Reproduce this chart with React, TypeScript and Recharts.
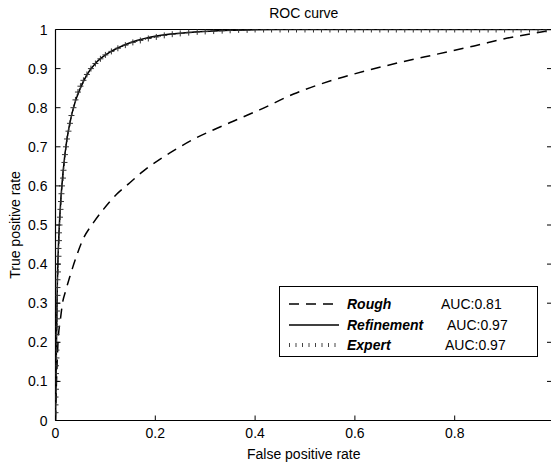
import React from 'react';
import { LineChart, Line, XAxis, YAxis, Legend, Label } from 'recharts';

const FONT = '"Liberation Sans", Arial, Helvetica, sans-serif';

// ROC points: [false positive rate, true positive rate]
const roughPoints: [number, number][] = [
  [0, 0], [0.001, 0.06], [0.002, 0.1], [0.005, 0.2], [0.01, 0.26], [0.014, 0.3],
  [0.02, 0.33], [0.029, 0.369], [0.042, 0.42], [0.055, 0.463], [0.076, 0.506],
  [0.096, 0.54], [0.122, 0.578], [0.149, 0.608], [0.176, 0.638], [0.209, 0.668],
  [0.243, 0.695], [0.276, 0.719], [0.316, 0.743], [0.35, 0.762], [0.377, 0.777],
  [0.41, 0.795], [0.477, 0.835], [0.557, 0.871], [0.624, 0.895], [0.691, 0.916],
  [0.765, 0.937], [0.839, 0.958], [0.906, 0.978], [0.979, 0.995], [1, 1],
];

const refinementPoints: [number, number][] = [
  [0, 0], [0.001, 0.1], [0.002, 0.2], [0.003, 0.3], [0.004, 0.37], [0.006, 0.45],
  [0.0086, 0.523], [0.015, 0.634], [0.022, 0.711], [0.029, 0.762], [0.039, 0.813],
  [0.049, 0.847], [0.062, 0.882], [0.082, 0.916], [0.109, 0.942], [0.143, 0.963],
  [0.189, 0.98], [0.256, 0.991], [0.357, 0.998], [0.45, 1], [1, 1],
];

const expertPoints: [number, number][] = [
  [0, 0], [0, 0.02], [0, 0.04], [0, 0.06], [0.001, 0.08], [0.001, 0.1], [0.001, 0.12],
  [0.001, 0.14], [0.002, 0.16], [0.002, 0.18], [0.002, 0.2], [0.002, 0.22], [0.003, 0.24],
  [0.003, 0.26], [0.003, 0.28], [0.003, 0.3], [0.004, 0.32], [0.004, 0.34], [0.004, 0.36],
  [0.005, 0.38], [0.005, 0.4], [0.006, 0.42], [0.006, 0.44], [0.007, 0.46], [0.007, 0.48],
  [0.008, 0.5], [0.009, 0.52], [0.01, 0.54], [0.011, 0.56], [0.012, 0.58], [0.013, 0.6],
  [0.015, 0.62], [0.016, 0.64], [0.018, 0.66], [0.019, 0.68], [0.021, 0.7], [0.023, 0.72],
  [0.026, 0.74], [0.029, 0.76], [0.032, 0.78], [0.036, 0.8], [0.04, 0.82], [0.045, 0.84],
  [0.05, 0.855], [0.056, 0.87], [0.063, 0.885], [0.071, 0.9], [0.08, 0.913], [0.09, 0.925],
  [0.1, 0.935], [0.112, 0.944], [0.125, 0.952], [0.14, 0.96], [0.155, 0.967], [0.17, 0.972],
  [0.186, 0.977], [0.202, 0.981], [0.218, 0.985], [0.234, 0.988], [0.25, 0.99], [0.267, 0.992],
  [0.284, 0.994], [0.3, 0.995], [0.317, 0.996], [0.334, 0.997], [0.35, 0.998], [0.367, 0.999],
  [0.384, 0.999], [0.4, 1], [0.417, 1], [0.433, 1], [0.45, 1], [0.467, 1], [0.483, 1],
  [0.5, 1], [0.517, 1], [0.533, 1], [0.55, 1], [0.567, 1], [0.583, 1], [0.6, 1], [0.617, 1],
  [0.633, 1], [0.65, 1], [0.667, 1], [0.683, 1], [0.7, 1], [0.717, 1], [0.733, 1], [0.75, 1],
  [0.767, 1], [0.783, 1], [0.8, 1], [0.817, 1], [0.833, 1], [0.85, 1], [0.867, 1], [0.883, 1],
  [0.9, 1], [0.917, 1], [0.933, 1], [0.95, 1], [0.967, 1], [0.983, 1], [1, 1],
];

const xTicks = [0, 0.2, 0.4, 0.6, 0.8];
const yTicks = [0, 0.1, 0.2, 0.3, 0.4, 0.5, 0.6, 0.7, 0.8, 0.9, 1];

const legendNames = ['Rough', 'Refinement', 'Expert'];
const legendAuc = ['AUC:0.81', 'AUC:0.97', 'AUC:0.97'];

const toRows = (pts: [number, number][]) => pts.map(([x, y]) => ({ x, y }));

const TICK_LEN = 5;

const BottomTick = ({ x, y, payload }: any) => (
  <g>
    <line x1={x} x2={x} y1={y - 8} y2={y - 8 - TICK_LEN} stroke="#000" />
    <text x={x} y={y + 9} textAnchor="middle" fontSize={14} fontFamily={FONT} fill="#000">
      {payload.value}
    </text>
  </g>
);

const LeftTick = ({ x, y, payload }: any) => (
  <g>
    <line x1={x + 8} x2={x + 8 + TICK_LEN} y1={y} y2={y} stroke="#000" />
    <text x={x} y={y + 5} textAnchor="end" fontSize={14} fontFamily={FONT} fill="#000">
      {payload.value}
    </text>
  </g>
);

const RightTick = ({ x, y }: any) => (
  <line x1={x} x2={x - TICK_LEN} y1={y} y2={y} stroke="#000" />
);

const TopTick = ({ x, y }: any) => (
  <line x1={x} x2={x} y1={y} y2={y + TICK_LEN} stroke="#000" />
);

const PlusDot = (props: any) => {
  const { cx, cy, index } = props;
  if (cx == null || cy == null) return <g key={index} />;
  return (
    <path
      key={index}
      d={`M${cx - 3},${cy}h6M${cx},${cy - 3}v6`}
      stroke="#333"
      strokeWidth={1}
      fill="none"
    />
  );
};

const aucLeft = [161, 167, 165];

const LegendBox = () => (
  <div
    style={{
      width: 259,
      height: 71,
      border: '1px solid #000',
      boxSizing: 'border-box',
      background: '#fff',
      position: 'relative',
      fontFamily: FONT,
      fontSize: 14,
      color: '#000',
    }}
  >
    {legendNames.map((name, i) => (
      <div key={name} style={{ position: 'absolute', left: 0, top: 7 + i * 20.5, height: 20, width: '100%' }}>
        <svg width={60} height={20} style={{ position: 'absolute', left: 0, top: 0 }}>
          {i === 0 && <line x1={9} x2={59} y1={10} y2={10} stroke="#000" strokeWidth={1.5} strokeDasharray="10 7" />}
          {i === 1 && <line x1={9} x2={59} y1={10} y2={10} stroke="#000" strokeWidth={1.5} />}
          {i === 2 && <line x1={9} x2={59} y1={10} y2={10} stroke="#444" strokeWidth={4} strokeDasharray="1 5.5" />}
        </svg>
        <span style={{ position: 'absolute', left: 67, top: 2, fontWeight: 'bold', fontStyle: 'italic' }}>{name}</span>
        <span style={{ position: 'absolute', left: aucLeft[i], top: 2 }}>{legendAuc[i]}</span>
      </div>
    ))}
  </div>
);

export default function App() {
  return (
    <div style={{ position: 'absolute', left: 0, top: 0, width: 551, height: 464, overflow: 'hidden', background: '#fff' }}>
      <LineChart
        width={560}
        height={464}
        margin={{ top: 9.5, right: 3, bottom: 13.5, left: 15.5 }}
      >
        <XAxis
          dataKey="x"
          type="number"
          domain={[0, 0.995]}
          allowDataOverflow
          ticks={xTicks}
          height={30}
          tickSize={0}
          tickMargin={8}
          tickLine={false}
          axisLine={{ stroke: '#000', strokeWidth: 1.2 }}
          tick={<BottomTick />}
          interval={0}
        >
          <Label
            content={({ viewBox }: any) => (
              <text
                x={viewBox.x + viewBox.width / 2}
                y={viewBox.y + 38}
                textAnchor="middle"
                fontSize={14}
                fontFamily={FONT}
                fill="#000"
              >
                False positive rate
              </text>
            )}
          />
        </XAxis>
        <XAxis
          xAxisId="top"
          orientation="top"
          type="number"
          domain={[0, 0.995]}
          allowDataOverflow
          ticks={xTicks}
          height={20}
          tickSize={0}
          tickMargin={0}
          tickLine={false}
          axisLine={{ stroke: '#000', strokeWidth: 1.2 }}
          tick={<TopTick />}
          interval={0}
        >
          <Label
            content={({ viewBox }: any) => (
              <text
                x={viewBox.x + viewBox.width / 2}
                y={viewBox.y + viewBox.height - 12}
                textAnchor="middle"
                fontSize={14}
                fontFamily={FONT}
                fill="#000"
              >
                ROC curve
              </text>
            )}
          />
        </XAxis>
        <YAxis
          type="number"
          domain={[0, 1]}
          allowDataOverflow
          ticks={yTicks}
          width={40}
          tickSize={0}
          tickMargin={8}
          tickLine={false}
          axisLine={{ stroke: '#000', strokeWidth: 1.2 }}
          tick={<LeftTick />}
          interval={0}
        >
          <Label
            content={({ viewBox }: any) => {
              const cx = viewBox.x + viewBox.width - 41;
              const cy = viewBox.y + viewBox.height / 2;
              return (
                <text
                  x={cx}
                  y={cy}
                  transform={`rotate(-90 ${cx} ${cy})`}
                  textAnchor="middle"
                  dominantBaseline="central"
                  fontSize={14}
                  fontFamily={FONT}
                  fill="#000"
                >
                  True positive rate
                </text>
              );
            }}
          />
        </YAxis>
        <YAxis
          yAxisId="right"
          orientation="right"
          type="number"
          domain={[0, 1]}
          allowDataOverflow
          ticks={yTicks}
          width={5}
          tickSize={0}
          tickMargin={0}
          tickLine={false}
          axisLine={{ stroke: '#000', strokeWidth: 1.2 }}
          tick={<RightTick />}
          interval={0}
        />
        <Line
          data={toRows(roughPoints)}
          dataKey="y"
          name="Rough"
          type="monotone"
          stroke="#000"
          strokeWidth={1.5}
          strokeDasharray="10 7"
          dot={false}
          isAnimationActive={false}
        />
        <Line
          data={toRows(refinementPoints)}
          dataKey="y"
          name="Refinement"
          type="monotone"
          stroke="#000"
          strokeWidth={1.5}
          dot={false}
          isAnimationActive={false}
        />
        <Line
          data={toRows(expertPoints)}
          dataKey="y"
          name="Expert"
          type="linear"
          stroke="#000"
          strokeWidth={1}
          strokeDasharray="1 2"
          dot={PlusDot}
          isAnimationActive={false}
        />
        <Legend
          layout="horizontal"
          verticalAlign="middle"
          align="center"
          content={() => <LegendBox />}
          wrapperStyle={{ position: 'absolute', left: 279, top: 286, width: 260, height: 72 }}
        />
      </LineChart>
    </div>
  );
}
